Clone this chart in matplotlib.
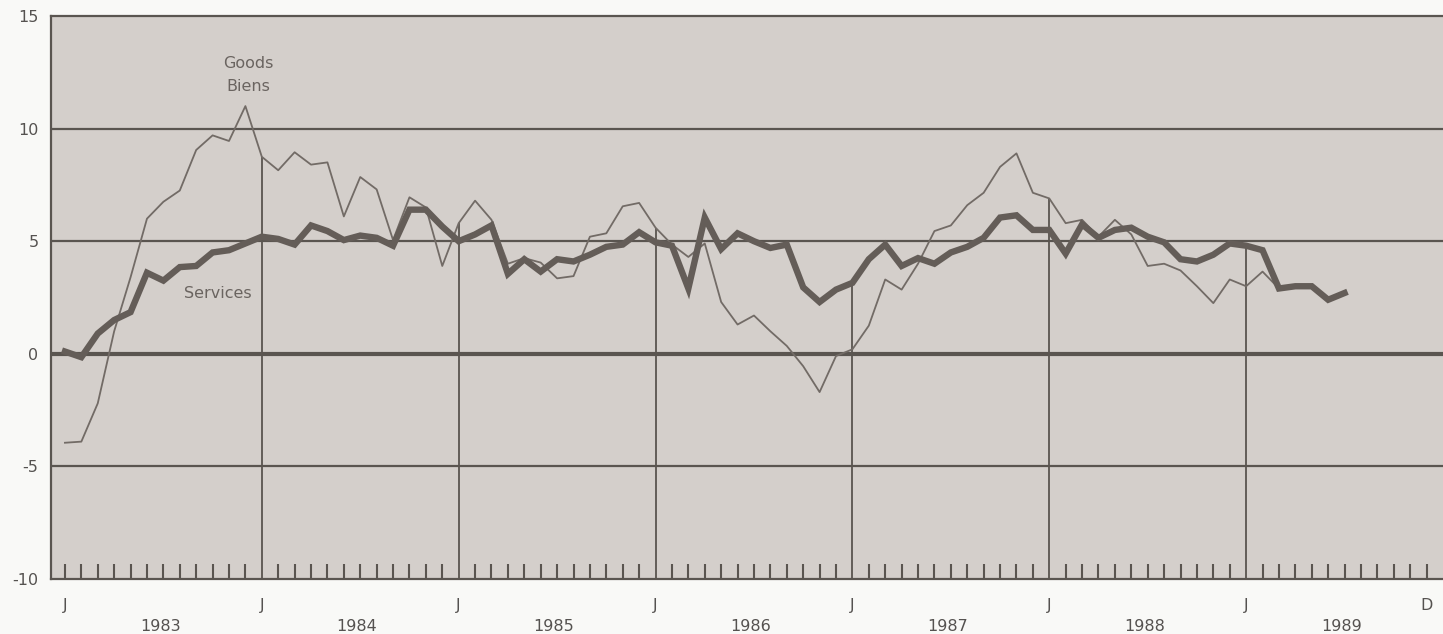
import matplotlib
matplotlib.use("Agg")
import matplotlib.pyplot as plt
import matplotlib.transforms as mtransforms
import numpy as np

# monthly percent change, Jan 1983 = month 0
services = [0.1, -0.15, 0.9, 1.5, 1.85, 3.6, 3.25, 3.85, 3.9, 4.5, 4.6, 4.9,
            5.2, 5.1, 4.85, 5.7, 5.45, 5.05, 5.25, 5.15, 4.8, 6.4, 6.4, 5.65,
            5.0, 5.3, 5.7, 3.55, 4.2, 3.65, 4.2, 4.1, 4.4, 4.75, 4.85, 5.4,
            4.95, 4.8, 2.9, 6.05, 4.65, 5.35, 5.0, 4.7, 4.85, 2.95, 2.3, 2.85,
            3.15, 4.2, 4.85, 3.9, 4.25, 4.0, 4.5, 4.75, 5.15, 6.05, 6.15, 5.5,
            5.5, 4.45, 5.75, 5.15, 5.5, 5.6, 5.2, 4.95, 4.2, 4.1, 4.4, 4.9,
            4.8, 4.6, 2.9, 3.0, 3.0, 2.4, 2.7]
goods = [-3.95, -3.9, -2.2, 1.0, 3.4, 6.0, 6.75, 7.25, 9.05, 9.7, 9.45, 11.0,
         8.75, 8.15, 8.95, 8.4, 8.5, 6.1, 7.85, 7.3, 5.05, 6.95, 6.5, 3.9,
         5.8, 6.8, 5.95, 4.0, 4.25, 4.05, 3.35, 3.45, 5.2, 5.35, 6.55, 6.7,
         5.6, 4.85, 4.3, 4.9, 2.3, 1.3, 1.7, 1.0, 0.35, -0.55, -1.7, -0.1,
         0.2, 1.25, 3.3, 2.85, 4.0, 5.45, 5.7, 6.6, 7.15, 8.3, 8.9, 7.15,
         6.9, 5.8, 5.95, 5.2, 5.95, 5.3, 3.9, 4.0, 3.7, 3.0, 2.25, 3.3,
         3.0, 3.65, 2.9, 3.0, 3.0]
years = ["1983", "1984", "1985", "1986", "1987", "1988", "1989"]
yticks = [15, 10, 5, 0, -5, -10]
ytick_labels = ["15", "10", "5", "0", "-5", "-10"]

ink = "#5a5550"
bg = "#d4cfcb"
txt = "#555250"
lbl = "#6a6460"

fig = plt.figure(figsize=(14.43, 6.34), dpi=100, facecolor="#f9f9f7")
ax = fig.add_axes([51 / 1443, 55 / 634, 1 - 51 / 1443, 563 / 634])
ax.set_facecolor(bg)

m_s = np.arange(len(services))
m_g = np.arange(len(goods))

ax.set_xlim(-0.85, 84.0)
ax.set_ylim(-10, 15)

# horizontal rules
for v in [-5, 5, 10]:
    ax.axhline(v, color=ink, lw=1.6, zorder=1)
ax.axhline(0, color=ink, lw=3.0, zorder=1)

# drop lines at each January, up to the higher of the two series
for k in range(1, len(years)):
    m = 12 * k
    top = max(services[m], goods[m])
    ax.vlines(m, -10, top, color=ink, lw=1.3, zorder=1)

ax.plot(m_g, goods, color="#726b66", lw=1.3, zorder=3)
ax.plot(m_s, services, color="#645d58", lw=4.6, zorder=4,
        solid_joinstyle="miter")

for side in ["left", "bottom", "top"]:
    ax.spines[side].set_color(ink)
    ax.spines[side].set_linewidth(1.6)
ax.spines["right"].set_visible(False)

# month ticks along the bottom
months = [m for m in range(0, 84) if m % 12 != 0 or m == 0]
ax.set_xticks(months, minor=True)
ax.set_xticks([])
ax.tick_params(axis="x", which="minor", direction="in", length=11,
               width=1.5, color=ink, labelbottom=False)
ax.set_yticks(yticks)
ax.set_yticklabels(ytick_labels)
ax.tick_params(axis="y", length=0, pad=9, labelsize=11.5, labelcolor=txt)

trans = mtransforms.blended_transform_factory(ax.transData, ax.transAxes)
for k in range(len(years)):
    ax.text(12 * k, -0.047, "J", transform=trans, ha="center", va="center",
            fontsize=11.5, color=txt)
    ax.text(12 * k + 5.8, -0.084, years[k], transform=trans, ha="center",
            va="center", fontsize=11.5, color=txt)
ax.text(83, -0.047, "D", transform=trans, ha="center", va="center",
        fontsize=11.5, color=txt)

ax.text(11.2, 12.9, "Goods", ha="center", va="center", fontsize=11.5, color=lbl)
ax.text(11.2, 11.85, "Biens", ha="center", va="center", fontsize=11.5, color=lbl)
ax.text(9.3, 2.68, "Services", ha="center", va="center", fontsize=11.5, color=lbl)

fig.savefig("out.png", dpi=100, facecolor=fig.get_facecolor())
